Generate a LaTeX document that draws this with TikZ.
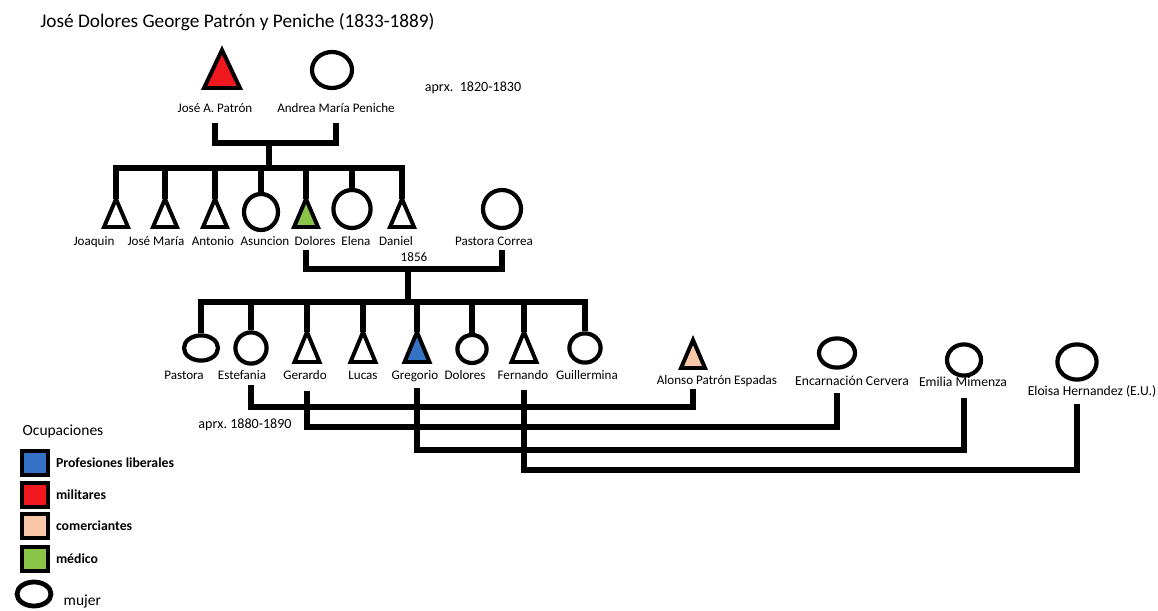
\documentclass[tikz,border=0pt]{standalone}
\usepackage{fontspec}
\setmainfont{Carlito}
\usetikzlibrary{shapes.geometric,positioning}
\definecolor{libblue}{RGB}{52,114,196}
\definecolor{milred}{RGB}{240,24,30}
\definecolor{compeach}{RGB}{248,200,168}
\definecolor{medgreen}{RGB}{138,196,72}
\begin{document}
\begin{tikzpicture}[x=0.025cm,y=-0.025cm,
	man/.style={draw,line width=2.8pt},
	woman/.style={draw,ellipse,line width=3pt,inner sep=0pt},
	bond/.style={line width=3.6pt},
	lbl/.style={font=\fontsize{9.3}{11}\selectfont,inner sep=1pt,text height=7pt,text depth=2pt},
	legbox/.style={draw,line width=3pt,minimum width=0.65cm,minimum height=0.6cm,inner sep=0pt},
	legtext/.style={font=\fontsize{9.8}{12}\selectfont\bfseries,inner sep=1pt}]
	\useasboundingbox (0,0) rectangle (1158,611);
	\node[anchor=west,inner sep=0pt,font=\fontsize{13.7}{16}\selectfont] (title) at (40,22) {José Dolores George Patrón y Peniche (1833-1889)};
	% padres
	\coordinate (patron) at (222,50);
	\draw[man,fill=milred] (patron) -- ++(18,38) -- ++(-36,0) -- cycle;
	\node[woman,minimum width=1cm,minimum height=0.9cm] (andrea) at (332,70) {};
	\node[lbl] (patronlbl) at (215,109) {José A. Patrón};
	\node[lbl] (andrealbl) at (336,109) {Andrea María Peniche};
	\node[font=\fontsize{10}{12}\selectfont] (aprx1) at (473,88) {aprx.~~1820-1830};
	\coordinate (fam1) at (269,143);
	\coordinate (sib1) at (269,168);
	\draw[bond] ([yshift=-4pt]patronlbl.south) -- (patronlbl |- fam1) -- (andrealbl |- fam1) -- ([yshift=-4pt]andrealbl.south);
	\draw[bond] (fam1) -- (sib1);
	% hijos
	\coordinate (joaquin) at (116,199);
	\coordinate (josemaria) at (165,199);
	\coordinate (antonio) at (215,199);
	\coordinate (dolores) at (306,199);
	\coordinate (daniel) at (402,199);
	\draw[man] (joaquin) -- ++(12,28) -- ++(-24,0) -- cycle;
	\draw[man] (josemaria) -- ++(12,28) -- ++(-24,0) -- cycle;
	\draw[man] (antonio) -- ++(12,28) -- ++(-24,0) -- cycle;
	\draw[man,fill=medgreen] (dolores) -- ++(12,28) -- ++(-24,0) -- cycle;
	\draw[man] (daniel) -- ++(12,28) -- ++(-24,0) -- cycle;
	\node[woman,minimum width=0.85cm,minimum height=0.9cm] (asuncion) at (261,212) {};
	\node[woman,minimum width=0.93cm,minimum height=0.95cm] (elena) at (352,209) {};
	\node[woman,minimum width=0.95cm,minimum height=0.95cm] (pcorrea) at (502,209) {};
	\node[lbl] (joaquinlbl) at (94,242) {Joaquin};
	\node[lbl] (josemarialbl) at (156,242) {José María};
	\node[lbl] (antoniolbl) at (213,242) {Antonio};
	\node[lbl] (asuncionlbl) at (265,242) {Asuncion};
	\node[lbl] (doloreslbl) at (315,242) {Dolores};
	\node[lbl] (elenalbl) at (356,242) {Elena};
	\node[lbl] (daniellbl) at (396,242) {Daniel};
	\node[lbl] (pcorrealbl) at (494,242) {Pastora Correa};
	\draw[bond] (joaquin) -- (joaquin |- sib1) -- (daniel |- sib1) -- (daniel);
	\draw[bond] (josemaria) -- (josemaria |- sib1);
	\draw[bond] (antonio) -- (antonio |- sib1);
	\draw[bond] (asuncion.north) -- (asuncion |- sib1);
	\draw[bond] (dolores) -- (dolores |- sib1);
	\draw[bond] (elena.north) -- (elena |- sib1);
	% matrimonio 1856
	\coordinate (fam2) at (408,269);
	\coordinate (sib2) at (408,302);
	\draw[bond] (dolores |- doloreslbl.south) -- (dolores |- fam2) -- (pcorrea |- fam2) -- (pcorrea |- pcorrealbl.south);
	\node[lbl] (y1856) at (414,258) {1856};
	\draw[bond] (fam2) -- (sib2);
	% nietos
	\coordinate (gerardo) at (307,332);
	\coordinate (lucas) at (363,332);
	\coordinate (gregorio) at (417,332);
	\coordinate (fernando) at (524,332);
	\draw[man] (gerardo) -- ++(12.5,30) -- ++(-25,0) -- cycle;
	\draw[man] (lucas) -- ++(12.5,30) -- ++(-25,0) -- cycle;
	\draw[man,fill=libblue] (gregorio) -- ++(12.5,30) -- ++(-25,0) -- cycle;
	\draw[man] (fernando) -- ++(12.5,30) -- ++(-25,0) -- cycle;
	\node[woman,minimum width=0.85cm,minimum height=0.63cm] (pastora) at (201,348) {};
	\node[woman,minimum width=0.78cm,minimum height=0.78cm] (estefania) at (251,348) {};
	\node[woman,minimum width=0.73cm,minimum height=0.7cm] (dolores2) at (472,349) {};
	\node[woman,minimum width=0.78cm,minimum height=0.73cm] (guillermina) at (585,348) {};
	\node[lbl] (pastoralbl) at (184,376) {Pastora};
	\node[lbl] (estefanialbl) at (242,376) {Estefania};
	\node[lbl] (gerardolbl) at (305,376) {Gerardo};
	\node[lbl] (lucaslbl) at (363,376) {Lucas};
	\node[lbl] (gregoriolbl) at (415,376) {Gregorio};
	\node[lbl] (dolores2lbl) at (465,376) {Dolores};
	\node[lbl] (fernandolbl) at (523,376) {Fernando};
	\node[lbl] (guillerminalbl) at (587,376) {Guillermina};
	\draw[bond] (pastora.north) -- (pastora |- sib2) -- (guillermina |- sib2) -- (guillermina.north);
	\draw[bond] (estefania.north) -- (estefania |- sib2);
	\draw[bond] (gerardo) -- (gerardo |- sib2);
	\draw[bond] (lucas) -- (lucas |- sib2);
	\draw[bond] (gregorio) -- (gregorio |- sib2);
	\draw[bond] (dolores2.north) -- (dolores2 |- sib2);
	\draw[bond] (fernando) -- (fernando |- sib2);
	% conyuges
	\coordinate (alonso) at (693,340);
	\draw[man,fill=compeach] (alonso) -- ++(12,28) -- ++(-24,0) -- cycle;
	\node[woman,minimum width=0.9cm,minimum height=0.73cm] (encarnacion) at (837,353) {};
	\node[woman,minimum width=0.85cm,minimum height=0.78cm] (emilia) at (964,360) {};
	\node[woman,minimum width=0.98cm,minimum height=0.88cm] (eloisa) at (1077,362) {};
	\node[lbl] (alonsolbl) at (717,381) {Alonso Patrón Espadas};
	\node[lbl,font=\fontsize{9.7}{11}\selectfont] (encarnacionlbl) at (852,382) {Encarnación Cervera};
	\node[lbl,font=\fontsize{9.7}{11}\selectfont] (emilialbl) at (963,383) {Emilia Mimenza};
	\node[lbl,font=\fontsize{9.7}{11}\selectfont] (eloisalbl) at (1092,392) {Eloisa Hernandez (E.U.)};
	\node[font=\fontsize{10}{12}\selectfont] (aprx2) at (245,425) {aprx.\ 1880-1890};
	\coordinate (wed1) at (0,407);
	\coordinate (wed2) at (0,427);
	\coordinate (wed3) at (0,450);
	\coordinate (wed4) at (0,470);
	\draw[bond] ([yshift=-1pt]estefania |- estefanialbl.south) -- (estefania |- wed1) -- (alonso |- wed1) -- (alonso |- alonsolbl.south);
	\draw[bond] ([yshift=-5pt]gerardo |- gerardolbl.south) -- (gerardo |- wed2) -- (encarnacion |- wed2) -- ([yshift=-2pt]encarnacion |- encarnacionlbl.south);
	\draw[bond] ([yshift=-3pt]gregorio |- gregoriolbl.south) -- (gregorio |- wed3) -- (emilia |- wed3) -- ([yshift=-5pt]emilia |- emilialbl.south);
	\draw[bond] ([yshift=-4pt]fernando |- fernandolbl.south) -- (fernando |- wed4) -- (eloisa |- wed4) -- ([yshift=-3pt]eloisa |- eloisalbl.south);
	% leyenda
	\node[font=\fontsize{11}{13}\selectfont] (ocup) at (63,431) {Ocupaciones};
	\node[legbox,fill=libblue] (leg1) at (35,463) {};
	\node[legbox,fill=milred] (leg2) at (35,495) {};
	\node[legbox,fill=compeach] (leg3) at (35,526) {};
	\node[legbox,fill=medgreen] (leg4) at (35,559) {};
	\node[legtext,right=3pt of leg1] (leg1txt) {Profesiones liberales};
	\node[legtext,right=3pt of leg2] (leg2txt) {militares};
	\node[legtext,right=3pt of leg3] (leg3txt) {comerciantes};
	\node[legtext,right=3pt of leg4] (leg4txt) {médico};
	\node[woman,line width=3.4pt,minimum width=0.85cm,minimum height=0.6cm] (legw) at (34,594) {};
	\node[anchor=west,inner sep=1pt,font=\fontsize{11}{13}\selectfont] (legwtxt) at (62,601) {mujer};
\end{tikzpicture}
\end{document}
